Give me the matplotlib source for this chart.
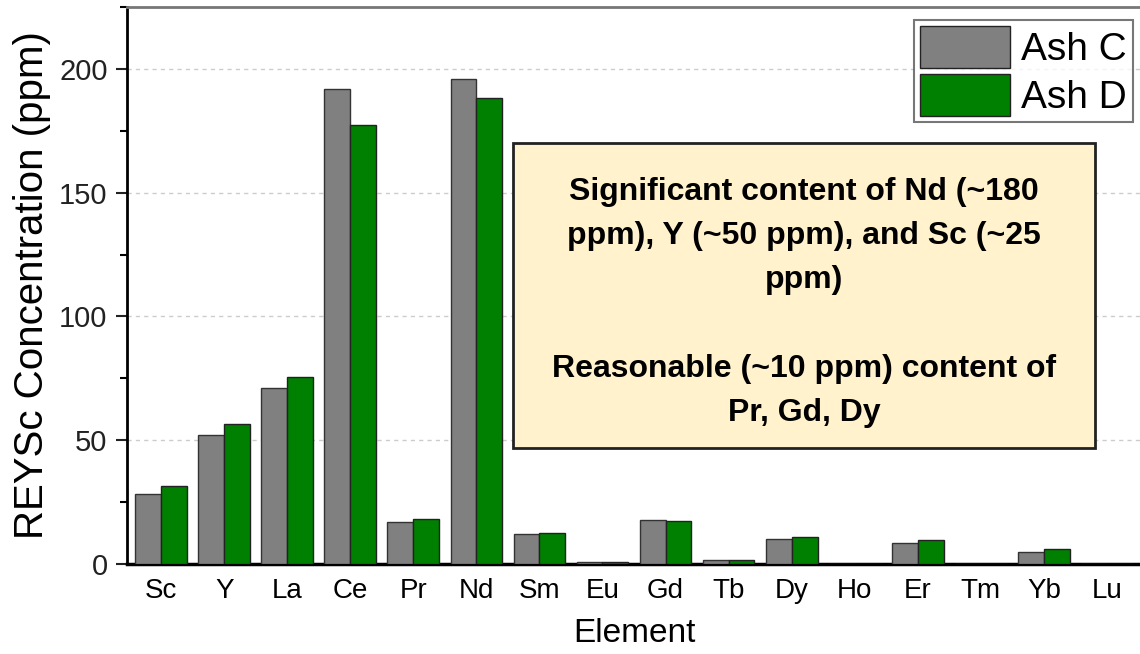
import numpy as np
import matplotlib
matplotlib.use('Agg')
import matplotlib.pyplot as plt
from matplotlib.patches import Rectangle
from matplotlib.ticker import MultipleLocator

# data
elements = ['Sc', 'Y', 'La', 'Ce', 'Pr', 'Nd', 'Sm', 'Eu',
            'Gd', 'Tb', 'Dy', 'Ho', 'Er', 'Tm', 'Yb', 'Lu']
ash_c = [28.2, 52.0, 71.0, 192.0, 17.0, 196.0, 12.1, 0.8,
         17.7, 1.5, 10.0, 0.0, 8.6, 0.0, 5.0, 0.0]
ash_d = [31.5, 56.5, 75.5, 177.4, 18.2, 188.3, 12.5, 0.8,
         17.4, 1.5, 10.9, 0.0, 9.6, 0.0, 5.9, 0.0]
series_labels = ['Ash C', 'Ash D']

note = ("Significant content of Nd (~180\n"
        "ppm), Y (~50 ppm), and Sc (~25\n"
        "ppm)\n\n"
        "Reasonable (~10 ppm) content of\n"
        "Pr, Gd, Dy")

plt.rcParams['font.family'] = ['Liberation Sans', 'DejaVu Sans']

fig = plt.figure(figsize=(11.4, 6.54), dpi=100)
ax = fig.add_axes([0.1114, 0.1376, 0.8895, 0.8517])

x = np.arange(len(elements))
w = 0.41
ax.bar(x - w / 2, ash_c, w, color='#808080', edgecolor='#333333',
       linewidth=1.0, label=series_labels[0], zorder=3)
ax.bar(x + w / 2, ash_d, w, color='#008000', edgecolor='#222222',
       linewidth=1.0, label=series_labels[1], zorder=3)

ax.set_xlim(-0.54, len(elements) - 0.46)
ax.set_ylim(0, 225)
ax.set_xticks(x)
ax.set_xticklabels(elements)
ax.yaxis.set_major_locator(MultipleLocator(50))
ax.yaxis.set_minor_locator(MultipleLocator(25))
ax.tick_params(axis='x', length=0, pad=10, labelsize=20)
ax.tick_params(axis='y', which='major', direction='out', length=8,
               width=1.5, pad=6, labelsize=21, colors='#222222')
ax.tick_params(axis='y', which='minor', direction='out', length=5,
               width=1.5)

ax.grid(axis='y', color='#cccccc', linestyle=(0, (3, 3)), linewidth=1,
        zorder=0)

ax.spines['left'].set_linewidth(2)
ax.spines['bottom'].set_linewidth(2.5)
ax.spines['top'].set_color('#777777')
ax.spines['top'].set_linewidth(2)
ax.spines['right'].set_visible(False)

ax.set_xlabel('Element', fontsize=24, labelpad=10)
ax.set_ylabel('REYSc Concentration (ppm)', fontsize=29, labelpad=6)

leg = ax.legend(loc='upper right', bbox_to_anchor=(0.992, 0.977),
                fontsize=28, handlelength=2.3, handleheight=1.3,
                labelspacing=0.15, borderpad=0.15, handletextpad=0.3,
                borderaxespad=0, fancybox=False, frameon=True)
leg.get_frame().set_edgecolor('#555555')
leg.get_frame().set_linewidth(1.5)
for p in leg.get_patches():
    p.set_edgecolor('#222222')

# annotation box
ax.add_patch(Rectangle((0.3807, 0.2083), 0.5739, 0.5475,
                       transform=ax.transAxes, facecolor='#FFF2CC',
                       edgecolor='#222222', linewidth=2, zorder=4))
ax.text(0.6677, 0.470, note, transform=ax.transAxes, ha='center',
        va='center', multialignment='center', fontsize=23,
        fontweight='bold', linespacing=1.62, zorder=5)

fig.savefig('out.png', dpi=100)
